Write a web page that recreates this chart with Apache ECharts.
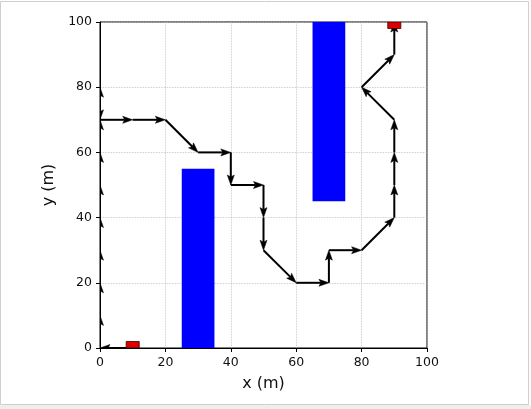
<!DOCTYPE html>
<html>
<head>
<meta charset="utf-8">
<script src="https://cdn.jsdelivr.net/npm/echarts@6/dist/echarts.min.js"></script>
<style>html,body{margin:0;padding:0;background:#fff}#c{width:531px;height:409px}</style>
</head>
<body>
<div id="c"></div>
<script>
// Path waypoints (m)
var pathX = [10, 0, 0, 0, 0, 0, 0, 0, 0, 0, 0, 10, 20, 30, 40, 40, 50, 50, 50, 60, 70, 70, 80, 90, 90, 90, 90, 80, 90, 90];
var pathY = [0, 0, 10, 20, 30, 40, 50, 60, 70, 80, 70, 70, 70, 60, 60, 50, 50, 40, 30, 20, 20, 30, 30, 40, 50, 60, 70, 80, 90, 100];
// Obstacles [x0, y0, x1, y1]
var obstacles = [[25, 0, 35, 55], [65, 45, 75, 100]];
// Start / goal markers [x0, y0, x1, y1]
var markers = [[8, 0, 12, 2], [88, 98, 92, 100]];
var ticks = [0, 20, 40, 60, 80, 100];

var segs = [];
for (var i = 0; i < pathX.length - 1; i++) segs.push([pathX[i], pathY[i], pathX[i + 1], pathY[i + 1]]);

function rectItem(fill, stroke, lw) {
  return function (params, api) {
    var a = api.coord([api.value(0), api.value(3)]);
    var b = api.coord([api.value(2), api.value(1)]);
    return {
      type: 'rect',
      shape: { x: a[0], y: a[1], width: b[0] - a[0], height: b[1] - a[1] },
      style: { fill: fill, stroke: stroke, lineWidth: lw }
    };
  };
}

var chart = echarts.init(document.getElementById('c'), null, { renderer: 'canvas' });
var font = 'DejaVu Sans';
chart.setOption({
  animation: false,
  backgroundColor: '#fff',
  graphic: [{
    type: 'rect', shape: { x: 0.5, y: 1.5, width: 528, height: 403 },
    style: { fill: 'none', stroke: '#cfcfcf', lineWidth: 1 }, z: 100
  }, {
    type: 'rect', shape: { x: 0, y: 405, width: 531, height: 4 },
    style: { fill: '#eeeeee' }, z: 100
  }],
  grid: { left: 100, top: 22, right: 104, bottom: 61, show: true, borderColor: '#000', borderWidth: 1, backgroundColor: 'transparent' },
  xAxis: {
    type: 'value', min: 0, max: 100, interval: 20,
    name: 'x (m)', nameLocation: 'middle', nameGap: 28,
    nameTextStyle: { fontFamily: font, fontSize: 16, color: '#111' },
    axisLine: { show: true, lineStyle: { color: '#000', width: 1 } },
    axisTick: { show: true, inside: false, length: 4, lineStyle: { color: '#000' } },
    axisLabel: { fontFamily: font, fontSize: 12.5, color: '#111', margin: 8 },
    splitLine: { show: true, lineStyle: { type: 'dotted', color: '#bdbdbd', width: 0.8 } }
  },
  yAxis: {
    type: 'value', min: 0, max: 100, interval: 20,
    name: 'y (m)', nameLocation: 'middle', nameGap: 31, nameRotate: 90,
    nameTextStyle: { fontFamily: font, fontSize: 16, color: '#111' },
    axisLine: { show: true, lineStyle: { color: '#000', width: 1 } },
    axisTick: { show: true, inside: false, length: 4, lineStyle: { color: '#000' } },
    axisLabel: { fontFamily: font, fontSize: 12.5, color: '#111', margin: 8 },
    splitLine: { show: true, lineStyle: { type: 'dotted', color: '#bdbdbd', width: 0.8 } }
  },
  series: [{
    type: 'custom', data: obstacles, clip: true, z: 2,
    renderItem: rectItem('#0000ff', null, 0)
  }, {
    type: 'custom', data: segs, clip: true, z: 3,
    renderItem: function (params, api) {
      var p0 = api.coord([api.value(0), api.value(1)]);
      var p1 = api.coord([api.value(2), api.value(3)]);
      var dx = p1[0] - p0[0], dy = p1[1] - p0[1];
      var len = Math.sqrt(dx * dx + dy * dy);
      var ux = dx / len, uy = dy / len;
      var L = 10, W = 7;
      var bx = p1[0] - ux * L, by = p1[1] - uy * L;
      var nx = -uy, ny = ux;
      return {
        type: 'group',
        children: [{
          type: 'line',
          shape: { x1: p0[0], y1: p0[1], x2: bx + ux * 2, y2: by + uy * 2 },
          style: { stroke: '#000', lineWidth: 2 }
        }, {
          type: 'polygon',
          shape: { points: [[p1[0], p1[1]], [bx + nx * W / 2, by + ny * W / 2], [bx + ux * 2, by + uy * 2], [bx - nx * W / 2, by - ny * W / 2]] },
          style: { fill: '#000', stroke: '#000', lineWidth: 0.5 }
        }]
      };
    }
  }, {
    type: 'custom', data: markers, clip: true, z: 4,
    renderItem: rectItem('#dd0000', '#3a0000', 0.8)
  }]
});
</script>
</body>
</html>
